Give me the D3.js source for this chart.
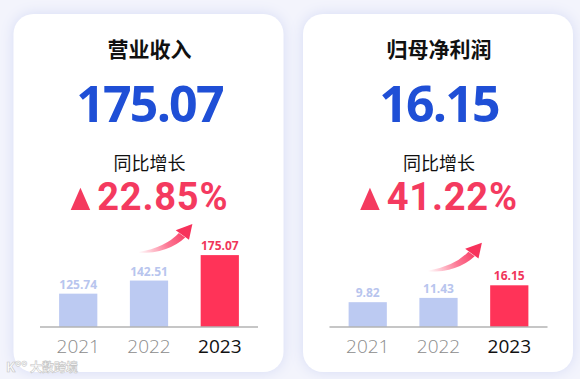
<!DOCTYPE html>
<html>
<head>
<meta charset="utf-8">
<script src="https://cdn.jsdelivr.net/npm/d3@7/dist/d3.min.js"></script>
<style>
  html, body { margin: 0; padding: 0; background: #f3f4fc; }
  svg { display: block; }
</style>
</head>
<body>
<svg id="chart" width="580" height="379"></svg>
<script>
// ---- data ----
const categories = ["2021", "2022", "2023"];
const revenueValues = [125.74, 142.51, 175.07];
const profitValues = [9.82, 11.43, 16.15];
const panelTitles = ["营业收入", "归母净利润"];
const growthLabels = ["22.85%", "41.22%"];
const subTitle = "同比增长";
const watermark = "大数跨境";

// ---- layout ----
const W = 580, H = 379;
const cardW = 270, cardH = 358, cardTop = 14;
const cardLefts = [13.5, 303];
const baseY = 327;
const CN = "'Noto Sans CJK SC', 'Noto Sans', sans-serif";
const NUM = "'Open Sans', 'Noto Sans', sans-serif";
const GROWTH_FONT = "Roboto, 'Open Sans', sans-serif";

const panels = [
  { title: panelTitles[0], values: revenueValues, growth: growthLabels[0], floor: 83.1, topH: 71.9 },
  { title: panelTitles[1], values: profitValues, growth: growthLabels[1], floor: 0.52, topH: 41.7 }
];

const svg = d3.select("#chart");
const defs = svg.append("defs");

const shadow = defs.append("filter").attr("id", "cardShadow")
  .attr("x", "-20%").attr("y", "-20%").attr("width", "140%").attr("height", "140%");
shadow.append("feDropShadow").attr("dx", 0).attr("dy", 0)
  .attr("stdDeviation", 7).attr("flood-color", "#d6dbf5").attr("flood-opacity", 1);

svg.append("rect").attr("width", W).attr("height", H).attr("fill", "#f3f4fc");

panels.forEach((p, pi) => {
  const ox = cardLefts[pi];
  const cx = ox + cardW / 2 + 1;
  const g = svg.append("g");

  g.append("rect")
    .attr("x", ox).attr("y", cardTop).attr("width", cardW).attr("height", cardH)
    .attr("rx", 20).attr("ry", 20)
    .attr("fill", "#ffffff").attr("filter", "url(#cardShadow)");

  g.append("text")
    .attr("x", cx).attr("y", 57)
    .attr("text-anchor", "middle")
    .attr("font-family", CN).attr("font-weight", 700).attr("font-size", 21)
    .attr("fill", "#111111").text(p.title);

  const last = p.values[p.values.length - 1];
  g.append("text")
    .attr("x", cx).attr("y", 121.5)
    .attr("text-anchor", "middle")
    .attr("font-family", NUM).attr("font-weight", 700).attr("font-size", 50)
    .attr("letter-spacing", -1.8)
    .attr("fill", "#1f4fd6").text(d3.format(".2f")(last));

  g.append("text")
    .attr("x", cx).attr("y", 169.5)
    .attr("text-anchor", "middle")
    .attr("font-family", CN).attr("font-weight", 400).attr("font-size", 18)
    .attr("fill", "#111111").text(subTitle);

  // growth line with triangle
  const gg = g.append("g");
  const gt = gg.append("text")
    .attr("x", 0).attr("y", 210)
    .attr("font-family", GROWTH_FONT).attr("font-weight", 700).attr("font-size", 38)
    .attr("letter-spacing", 0.8)
    .attr("fill", "#f43a5f").text(p.growth);
  const tw = gt.node().getComputedTextLength();
  const triW = 19.5, triH = 22.3, gap = 7;
  gg.append("path")
    .attr("d", `M0,210 L${triW},210 L${triW / 2},${210 - triH} Z`)
    .attr("fill", "#f43a5f");
  gt.attr("x", triW + gap);
  const totalW = triW + gap + tw;
  gg.attr("transform", `translate(${cx - totalW / 2},0)`);

  // scales
  const x = d3.scaleBand().domain(categories)
    .range([ox + 26.5, ox + 244.5]).paddingInner(0.46).paddingOuter(0.27);
  const maxV = d3.max(p.values);
  const y = d3.scaleLinear().domain([p.floor, maxV])
    .range([baseY, baseY - p.topH]);

  const n = categories.length;
  g.selectAll("rect.bar").data(p.values).join("rect")
    .attr("class", "bar")
    .attr("x", (d, i) => x(categories[i]))
    .attr("y", d => y(d))
    .attr("width", x.bandwidth())
    .attr("height", d => baseY - y(d))
    .attr("fill", (d, i) => i === n - 1 ? "#ff3358" : "#bccaf2");

  g.selectAll("text.val").data(p.values).join("text")
    .attr("class", "val")
    .attr("x", (d, i) => x(categories[i]) + x.bandwidth() / 2)
    .attr("y", d => y(d) - 5)
    .attr("text-anchor", "middle")
    .attr("font-family", NUM).attr("font-weight", 700).attr("font-size", 12)
    .attr("fill", (d, i) => i === n - 1 ? "#f0365b" : "#b8c5ee")
    .text(d => d3.format(".2f")(d));

  // axis
  const axis = d3.axisBottom(x).tickSize(0).tickPadding(8);
  const ag = g.append("g").attr("transform", `translate(0,${baseY})`).call(axis);
  ag.select(".domain").remove();
  ag.append("line")
    .attr("x1", ox + 26.5).attr("x2", ox + 244.5)
    .attr("y1", 0).attr("y2", 0)
    .attr("stroke", "#b3b3b3").attr("stroke-width", 1.6);
  ag.selectAll(".tick text")
    .attr("y", 26.3).attr("dy", null)
    .attr("font-family", NUM).attr("font-size", 19)
    .attr("font-weight", (d, i) => i === n - 1 ? 400 : 300)
    .attr("fill", (d, i) => i === n - 1 ? "#111111" : "#8c8c8c");

  // growth arrow anchored to the mean bar height
  const meanTop = d3.mean(p.values, d => y(d));
  const tx = x(categories[1]) + 8.5;
  const ty = meanTop - 24;
  const gid = "arrowGrad" + pi;
  const grad = defs.append("linearGradient").attr("id", gid)
    .attr("gradientUnits", "userSpaceOnUse")
    .attr("x1", 0).attr("y1", 0).attr("x2", 50).attr("y2", -22);
  grad.append("stop").attr("offset", 0).attr("stop-color", "#ff4a6e").attr("stop-opacity", 0);
  grad.append("stop").attr("offset", 0.55).attr("stop-color", "#fb4a70").attr("stop-opacity", 0.75);
  grad.append("stop").attr("offset", 1).attr("stop-color", "#f7325b").attr("stop-opacity", 1);

  const arrow = g.append("g").attr("transform", `translate(${tx},${ty})`);
  arrow.append("path")
    .attr("d", "M0,-0.4 Q27,-5 40.5,-19.5 L46.8,-15 Q30,0.8 0,0.6 Z")
    .attr("fill", `url(#${gid})`);
  arrow.append("path")
    .attr("d", "M54,-28.4 L37.3,-22.3 L50.6,-12.6 Z")
    .attr("fill", "#f7325b");
});

// watermark
svg.append("text")
  .attr("x", 6).attr("y", 372)
  .attr("font-family", NUM).attr("font-weight", 700).attr("font-size", 14)
  .attr("fill", "#ffffff").attr("stroke", "#c4c4c4").attr("stroke-width", 0.6)
  .text("K°°");
svg.append("text")
  .attr("x", 30).attr("y", 372)
  .attr("font-family", CN).attr("font-weight", 700).attr("font-size", 12)
  .attr("fill", "#ffffff").attr("stroke", "#c4c4c4").attr("stroke-width", 0.6)
  .text(watermark);
</script>
</body>
</html>
